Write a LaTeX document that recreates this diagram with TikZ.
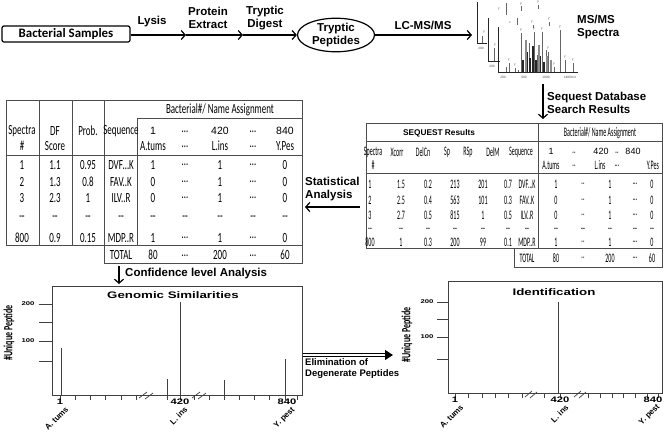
\documentclass[tikz,border=0pt]{standalone}
\usepackage{fontspec}
\setmainfont{Liberation Sans}
\newfontfamily\tabA[FakeStretch=0.64]{Carlito}
\newfontfamily\tabB[FakeStretch=0.46]{Carlito}
\newfontfamily\calib{Carlito}
\newfontfamily\wideA[FakeStretch=1.4]{Liberation Sans}
\usetikzlibrary{shapes.geometric,arrows.meta}
\begin{document}
\begin{tikzpicture}[x=1pt,y=-1pt,
  lbl/.style={font=\bfseries\fontsize{11.5}{13}\selectfont, align=center, inner sep=0pt},
  lbll/.style={font=\bfseries\fontsize{11.5}{13}\selectfont, align=left, inner sep=0pt, anchor=west},
  arr/.style={line width=1.2pt, -{Straight Barb[length=4pt,width=9pt]}},
  ta/.style={font=\tabA\fontsize{14}{14}\selectfont, inner sep=0pt},
  tb/.style={font=\tabB\fontsize{13}{13}\selectfont, inner sep=0pt},
  numA/.style={font=\fontsize{10.5}{10.5}\selectfont, inner sep=0pt},
  numB/.style={font=\fontsize{9}{9}\selectfont, inner sep=0pt},
  gridl/.style={draw=black!70, line width=0.8pt},
  spec/.style={draw=black!60, line width=0.6pt},
  specd/.style={draw=black!85, line width=0.8pt},
  tiny/.style={font=\fontsize{3.2}{3.2}\selectfont, inner sep=0pt, text=black!70},
  pbox/.style={draw=black!75, line width=0.8pt, inner sep=0pt},
  bar/.style={draw=black!75, line width=0.9pt},
  tck/.style={draw=black!75, line width=0.7pt},
  ptitle/.style={font=\wideA\bfseries\fontsize{9.5}{9.5}\selectfont, inner sep=0pt},
  axn/.style={font=\wideA\bfseries\fontsize{8}{8}\selectfont, inner sep=0pt},
  ayn/.style={font=\wideA\bfseries\fontsize{5.5}{5.5}\selectfont, inner sep=0pt},
  ylab/.style={font=\tabA\bfseries\fontsize{12.5}{12.5}\selectfont, inner sep=0pt, rotate=90},
  rlab/.style={font=\bfseries\fontsize{8}{8}\selectfont, inner sep=0pt, rotate=45, anchor=north east}
]
\useasboundingbox (0,0) rectangle (664,432);

% ---------- top flow ----------
\node[draw, rounded corners=2pt, line width=1.2pt, minimum width=128pt, minimum height=16pt, inner sep=0pt,
      font=\calib\bfseries\fontsize{12.9}{13}\selectfont] (bs) at (66,34) {Bacterial Samples};
\coordinate (p1) at (186,35);
\coordinate (p2) at (243,35);
\node[draw, ellipse, line width=1.2pt, minimum width=77pt, minimum height=33pt, inner sep=0pt, lbl] (tp) at (336,35) {Tryptic\\Peptides};
\coordinate (p3) at (472,35);
\draw[arr] (bs.east |- p1) -- (p1);
\draw[arr] (p1) -- (p2);
\draw[arr] (p2) -- (tp.west);
\draw[arr] (tp.east) -- (p3);
\node[lbl] (lysis) at (152,22) {Lysis};
\node[lbl] (prot) at (208,18) {Protein\\Extract};
\node[lbl] (dig) at (265,18) {Tryptic\\Digest};
\node[lbl] (lcms) at (423,25) {LC-MS/MS};
\node[lbll] (msms) at (577,27) {MS/MS\\Spectra};

% ---------- spectra picture ----------
\draw[specd] (477,2) -- (477,43) -- (487,43);
\node[tiny] (s200a) at (481,48) {200};
\draw[spec] (482,43) -- (482,36);
\node[tiny] (sy0) at (484,32) {y};
\draw[specd] (488,18) -- (488,61) -- (500,61);
\node[tiny] (s200b) at (492,66) {200};
\draw[spec] (494,61) -- (494,48);
\node[tiny] (sy00) at (495,45) {y};
\draw[spec] (506,3) -- (506,15);
\node[tiny] (sy1) at (499,9) {y};
\draw[spec] (521,6) -- (521,11);
\node[tiny] (sy2) at (521,4) {y};
\draw[spec] (538,5) -- (538,9);
\node[tiny] (sy3) at (538,2) {y};
\draw[spec] (517,18) -- (517,25);
\node[tiny] (sy4) at (510,23) {x};
\node[tiny] (sy5) at (532,22) {y};
\draw[spec] (533,25) -- (533,28);
\node[tiny] (sy6) at (549,19) {y};
\draw[spec] (549,22) -- (549,26);
\draw[specd] (498,27) -- (498,72) -- (578,72);
\foreach \px/\pt in {506/67,509/63,515/68,518/70,521/33,525/50,529/43,532/52,534/32,537/55,542/32,546/50,548/52,554/67,560/30,565/60,573/63}
  \draw[spec] (\px,72) -- (\px,\pt);
\foreach \px/\pt in {523/60,527/52,530/58,533/46,536/60,540/56,544/62}
  \draw[draw=black!85, line width=1.2pt] (\px,72) -- (\px,\pt);
\foreach \px/\pt in {526/40,539/45,547/56,551/60}
  \draw[draw=black!45, line width=1.6pt] (\px,72) -- (\px,\pt);
\node[tiny] (y1) at (521,30) {y};
\node[tiny] (y2) at (534,29) {y};
\node[tiny] (y3) at (542,29) {y};
\node[tiny] (y4) at (560,27) {y};
\node[tiny] (y5) at (548,48) {y};
\node[tiny] (y6) at (554,64) {y};
\node[tiny] (y7) at (565,57) {y};
\node[tiny] (y8) at (573,60) {y};
\node[tiny] (y9) at (509,60) {y};
\node[tiny] (y10) at (515,65) {y};
\node[tiny] (t200) at (503,77) {200};
\node[tiny] (t600) at (524,77) {600};
\node[tiny] (t1000) at (546,77) {1000};
\node[tiny] (t1400) at (570,77) {1400m/z};

% ---------- Sequest arrow ----------
\coordinate (q1) at (543,84);
\coordinate (q2) at (543,119);
\draw[arr] (q1) -- (q2);
\node[lbll] (seqdb) at (547,103) {Sequest Database\\Search Results};

% ---------- right table (SEQUEST) ----------
\draw[gridl] (366,123) rectangle (662,248);
\draw[gridl] (538,123) -- (538,248);
\draw[gridl] (366,141) -- (662,141);
\draw[gridl] (366,173) -- (662,173);
\draw[gridl] (514,248) rectangle (662,267);
\node[font=\bfseries\fontsize{8.3}{8.3}\selectfont, inner sep=0pt] (seqres) at (439,133) {SEQUEST Results};
\node[tb] (rba) at (600,133) {Bacterial\#/ Name Assignment};
\foreach \tx/\tt [count=\k] in {373/Spectra,397/Xcorr,423/DelCn,447/Sp,468/RSp,493/DelM,521/Sequence}
  \node[tb] (RH\k) at (\tx,152) {\tt};
\node[numB] (RN1) at (551,151) {1};
\node[tb] (RN2) at (574,153) {..};
\node[numB] (RN3) at (601,151) {420};
\node[tb] (RN4) at (617,153) {..};
\node[numB] (RN5) at (633,151) {840};
\node[tb] (RS1) at (373,165) {\#};
\node[tb] (RS2) at (551,165) {A.tums};
\node[tb] (RS3) at (574,166) {..};
\node[tb] (RS4) at (600,165) {L.ins};
\node[tb] (RS5) at (617,166) {\ldots};
\node[tb] (RS6) at (653,165) {Y.Pes};
\foreach \yy/\ca/\cb/\cc/\cd/\ce/\cf/\cg/\ch/\ci/\cj/\ck/\cl [count=\r] in {
  184/1/1.5/0.2/213/201/0.7/DVF\ldots K/1/../1/\ldots/0,
  200/2/2.5/0.4/563/101/0.3/FAV..K/0/../1/\ldots/0,
  215/3/2.7/0.5/815/1/0.5/ILV..R/0/../1/\ldots/0,
  230/--/--/--/--/--/--/--/--/--/--/--/--,
  242/800/1/0.3/200/99/0.1/MDP..R/1/../1/\ldots/0}
{
  \node[tb] (R\r-1) at (370,\yy) {\ca};
  \node[tb] (R\r-2) at (401,\yy) {\cb};
  \node[tb] (R\r-3) at (428,\yy) {\cc};
  \node[tb] (R\r-4) at (455,\yy) {\cd};
  \node[tb] (R\r-5) at (483,\yy) {\ce};
  \node[tb] (R\r-6) at (508,\yy) {\cf};
  \node[tb] (R\r-7) at (527,\yy) {\cg};
  \node[tb] (R\r-8) at (556,\yy) {\ch};
  \node[tb] (R\r-9) at (583,\yy) {\ci};
  \node[tb] (R\r-10) at (610,\yy) {\cj};
  \node[tb] (R\r-11) at (635,\yy) {\ck};
  \node[tb] (R\r-12) at (652,\yy) {\cl};
}
\node[tb] (RT1) at (527,258) {TOTAL};
\node[tb] (RT2) at (556,258) {80};
\node[tb] (RT3) at (583,258) {..};
\node[tb] (RT4) at (610,258) {200};
\node[tb] (RT5) at (635,258) {\ldots};
\node[tb] (RT6) at (652,258) {60};

% ---------- Statistical analysis ----------
\coordinate (sa1) at (360,207);
\coordinate (sa2) at (305,207);
\draw[arr] (sa1) -- (sa2);
\node[lbll] (stat) at (305,189) {Statistical\\Analysis};

% ---------- left table ----------
\draw[gridl] (6,100) rectangle (302,245);
\foreach \vx in {39,72,104} \draw[gridl] (\vx,100) -- (\vx,245);
\draw[gridl] (137,118) -- (137,245);
\draw[gridl] (137,118) -- (302,118);
\draw[gridl] (6,155) -- (302,155);
\draw[gridl] (104,245) rectangle (302,263);
\node[ta] (lba) at (220,110) {Bacterial\#/ Name Assignment};
\foreach \tx/\tt [count=\k] in {22/Spectra,55/DF,88/Prob.,121/Sequence}
  \node[ta] (LH\k) at (\tx,131) {\tt};
\node[ta] (LS1) at (22,146) {\#};
\node[ta] (LS2) at (55,146) {Score};
\node[numA] (LN1) at (153,131) {1};
\node[ta] (LN2) at (185,132) {\ldots};
\node[numA] (LN3) at (220,131) {420};
\node[ta] (LN4) at (253,132) {\ldots};
\node[numA] (LN5) at (285,131) {840};
\node[ta] (LA1) at (153,146) {A.tums};
\node[ta] (LA2) at (185,147) {\ldots};
\node[ta] (LA3) at (220,146) {L.ins};
\node[ta] (LA4) at (253,147) {\ldots};
\node[ta] (LA5) at (285,146) {Y.Pes};
\foreach \yy/\ca/\cb/\cc/\cd/\ce/\cf/\cg/\ch/\ci [count=\r] in {
  165/1/1.1/0.95/DVF\ldots K/1/\ldots/1/\ldots/0,
  182/2/1.3/0.8/FAV..K/0/\ldots/1/\ldots/0,
  198/3/2.3/1/ILV..R/0/\ldots/1/\ldots/0,
  218/--/--/--/--/--/--/--/--/--,
  238/800/0.9/0.15/MDP..R/1/\ldots/1/\ldots/0}
{
  \node[ta] (L\r-1) at (22,\yy) {\ca};
  \node[ta] (L\r-2) at (55,\yy) {\cb};
  \node[ta] (L\r-3) at (88,\yy) {\cc};
  \node[ta] (L\r-4) at (121,\yy) {\cd};
  \node[ta] (L\r-5) at (153,\yy) {\ce};
  \node[ta] (L\r-6) at (185,\yy) {\cf};
  \node[ta] (L\r-7) at (220,\yy) {\cg};
  \node[ta] (L\r-8) at (253,\yy) {\ch};
  \node[ta] (L\r-9) at (285,\yy) {\ci};
}
\node[ta] (LT1) at (121,255) {TOTAL};
\node[ta] (LT2) at (153,255) {80};
\node[ta] (LT3) at (185,256) {\ldots};
\node[ta] (LT4) at (220,255) {200};
\node[ta] (LT5) at (253,256) {\ldots};
\node[ta] (LT6) at (285,255) {60};

% ---------- confidence arrow ----------
\coordinate (c1) at (119,266);
\coordinate (c2) at (119,284);
\draw[arr] (c1) -- (c2);
\node[lbll] (conf) at (125,274) {Confidence level Analysis};

% ---------- Genomic similarities plot ----------
\node[pbox, minimum width=250pt, minimum height=109pt, anchor=north west] (gbox) at (52,286) {};
\node[ptitle] (gtitle) at (173,295) {Genomic Similarities};
\foreach \ty in {304,322,341,361} \draw[tck] (39,\ty) -- (52,\ty);
\node[ayn] (g200) at (28,304) {200};
\node[ayn] (g100) at (28,341) {100};
\node[ylab] (gyl) at (9,333) {\#Unique Peptide};
\foreach \bx/\by in {61/348,167/379,180/302,224/380,285/359}
  \draw[bar] (\bx,395) -- (\bx,\by);
\foreach \tx in {60,75,90,105,121,136,167,180,194,209,224,239,254,269,285,297}
  \draw[tck] (\tx,395) -- (\tx,400);
\draw[tck] (139,398) -- (147,392);
\draw[tck] (145,399) -- (153,393);
\draw[tck] (192,398) -- (200,392);
\draw[tck] (198,399) -- (206,393);
\node[axn] (g1) at (60,402) {1};
\node[axn] (g420) at (180,402) {420};
\node[axn] (g840) at (287,402) {840};
\node[rlab] (ga) at (65,406) {A. tums};
\node[rlab] (gl) at (184,406) {L. ins};
\node[rlab] (gy) at (291,406) {Y. pest};

% ---------- Identification plot ----------
\node[pbox, minimum width=214pt, minimum height=112pt, anchor=north west] (ibox) at (448,281) {};
\node[ptitle] (ititle) at (554,292) {Identification};
\foreach \ty in {302,319,337,359} \draw[tck] (437,\ty) -- (448,\ty);
\node[ayn] (i200) at (427,302) {200};
\node[ayn] (i100) at (427,337) {100};
\node[ylab] (iyl) at (407,335) {\#Unique Peptide};
\draw[bar] (558,393) -- (558,302);
\foreach \tx in {455,468,482,495,508,522,544,560,588,600,612,623,635,647,658}
  \draw[tck] (\tx,393) -- (\tx,398);
\draw[tck] (525,397) -- (532,391);
\draw[tck] (530,398) -- (537,392);
\draw[tck] (574,397) -- (581,391);
\draw[tck] (579,398) -- (586,392);
\node[axn] (i1) at (455,400) {1};
\node[axn] (i420) at (560,400) {420};
\node[axn] (i840) at (653,400) {840};
\node[rlab] (ia) at (460,404) {A. tums};
\node[rlab] (il) at (565,404) {L. ins};
\node[rlab] (iy) at (656,403) {Y. pest};

% ---------- elimination arrow ----------
\coordinate (e1) at (393,355);
\draw[line width=1pt, double, double distance=2.4pt, -{Triangle[length=8pt,width=10pt]}] (gbox.east |- e1) -- (e1);
\node[font=\bfseries\fontsize{9.5}{11.5}\selectfont, align=left, inner sep=0pt, anchor=north west] (elim) at (305,358) {Elimination of\\Degenerate Peptides};
\end{tikzpicture}
\end{document}
